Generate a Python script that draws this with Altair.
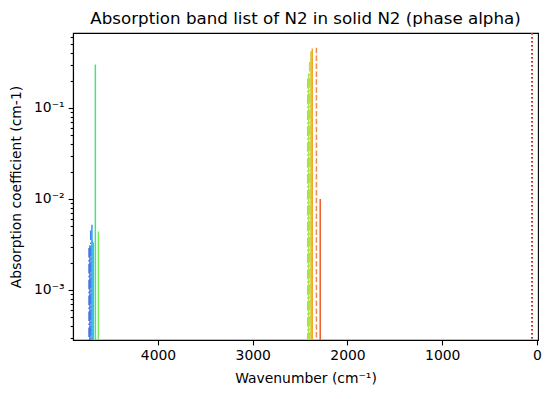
import altair as alt
import pandas as pd

# Band positions (cm-1), peak absorption coefficients (cm-1), colours and line styles
wavenumbers = [4727, 4718, 4710, 4697, 4690, 4683, 4661, 4629,
               2420, 2410, 2400, 2385, 2372, 2328, 2288,
               50, 55]
absorption = [2.9e-3, 3.1e-3, 4.5e-3, 5.2e-3, 3.4e-3, 3.3e-3, 0.30, 4.4e-3,
              0.21, 0.24, 0.32, 0.42, 0.45, 0.46, 0.0100,
              1.0, 1.0]
colors = ["#3f5fe0", "#3f70ea", "#3e82f2", "#3a95f6", "#30aef0", "#22cdd6", "#48e27c", "#76ec5c",
          "#96e850", "#a8e545", "#bce03a", "#d6c432", "#eeaa28", "#f38a4e", "#f05a28",
          "#a01808", "#e8361c"]
styles = ["dashdot", "solid", "dashdot", "solid", "dotted", "solid", "solid", "solid",
          "dashdot", "solid", "dashdot", "solid", "solid", "dashed", "solid",
          "dotted", "dotted"]
band_ids = [f"band{i}" for i in range(len(wavenumbers))]

x_ticks = [4000, 3000, 2000, 1000, 0]
y_major = [1e-3, 1e-2, 1e-1]
y_minor = [3e-4, 4e-4, 5e-4, 6e-4, 7e-4, 8e-4, 9e-4,
           2e-3, 3e-3, 4e-3, 5e-3, 6e-3, 7e-3, 8e-3, 9e-3,
           2e-2, 3e-2, 4e-2, 5e-2, 6e-2, 7e-2, 8e-2, 9e-2,
           2e-1, 3e-1, 4e-1, 5e-1, 6e-1]

df = pd.DataFrame({
    "band": band_ids,
    "wavenumber": wavenumbers,
    "absorption": absorption,
    "style": styles,
})

W, H = 465, 307
FONT = "DejaVu Sans"

major_test = ("(datum.value > 0.09 && datum.value < 0.11) || "
              "(datum.value > 0.009 && datum.value < 0.011) || "
              "(datum.value > 0.0009 && datum.value < 0.0011)")
label_expr = ("datum.value > 0.09 && datum.value < 0.11 ? '10⁻¹' : "
              "datum.value > 0.009 && datum.value < 0.011 ? '10⁻²' : "
              "datum.value > 0.0009 && datum.value < 0.0011 ? '10⁻³' : ''")

chart = alt.Chart(df).mark_rule(strokeWidth=1.5, clip=True).encode(
    x=alt.X("wavenumber:Q",
            scale=alt.Scale(domain=[-10.5, 4897], reverse=True, nice=False, zero=False),
            axis=alt.Axis(values=x_ticks, format="d", grid=False, tickSize=4.9,
                          tickWidth=1.1, tickColor="black", domainColor="black",
                          domainWidth=1.1, labelPadding=4, labelFontSize=13.9,
                          labelFont=FONT, labelColor="black", labelFlush=False,
                          title="Wavenumber (cm⁻¹)", titleFontSize=13.9, titleFont=FONT,
                          titleFontWeight="normal", titleColor="black", titlePadding=9)),
    y=alt.Y("absorption:Q",
            scale=alt.Scale(type="log", domain=[2.82e-4, 0.667], nice=False),
            axis=alt.Axis(values=y_major + y_minor, grid=False,
                          tickSize={"condition": {"test": major_test, "value": 4.9}, "value": 2.8},
                          tickWidth=1.1, tickColor="black", domainColor="black",
                          domainWidth=1.1, labelExpr=label_expr, labelOverlap=False,
                          labelFlush=False, labelPadding=4, labelFontSize=13.9,
                          labelFont=FONT, labelColor="black",
                          title="Absorption coefficient (cm-1)", titleFontSize=13.9,
                          titleFont=FONT, titleFontWeight="normal", titleColor="black",
                          titleX=-57, titleY=H / 2, titleBaseline="middle",
                          titleAlign="center", titleAngle=270)),
    y2=alt.value(H),
    color=alt.Color("band:N", scale=alt.Scale(domain=band_ids, range=colors), legend=None),
    strokeDash=alt.StrokeDash("style:N",
                              scale=alt.Scale(domain=["solid", "dashed", "dashdot", "dotted"],
                                              range=[[1, 0], [5.5, 2.4], [9.6, 2.4, 1.5, 2.4], [1.5, 2.5]]),
                              legend=None),
).properties(
    width=W,
    height=H,
    title=alt.TitleParams("Absorption band list of N2 in solid N2 (phase alpha)",
                          font=FONT, fontSize=16.7, fontWeight="normal", color="black",
                          anchor="middle", frame="group", baseline="bottom", offset=5, dy=20),
    padding={"left": 73, "top": 33, "right": 13, "bottom": 59},
    autosize=alt.AutoSizeParams(type="none"),
).configure(
    background="white",
    view=alt.ViewConfig(stroke="black", strokeWidth=1.1),
)

chart.save("out.html", embed_options={"renderer": "svg", "actions": False})
